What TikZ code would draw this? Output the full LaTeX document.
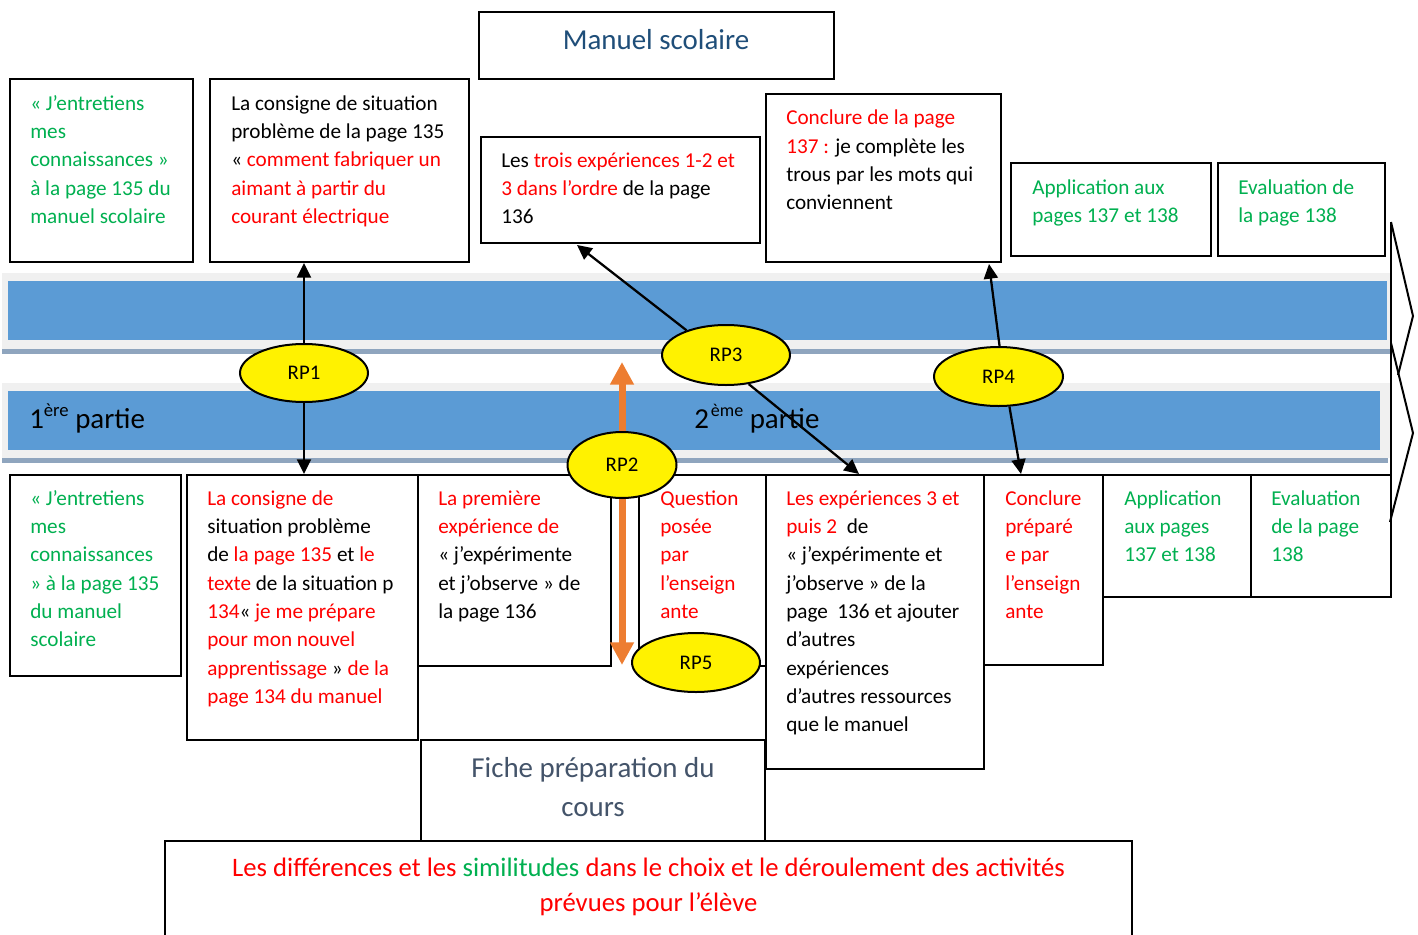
\documentclass[tikz,border=0pt]{standalone}
\usepackage{fontspec}
\setmainfont{Carlito}
\usetikzlibrary{arrows.meta,fit,shapes.geometric}
\definecolor{myred}{RGB}{255,0,0}
\definecolor{mygreen}{RGB}{0,176,80}
\definecolor{bandblue}{RGB}{91,155,213}
\definecolor{bandgray}{RGB}{240,240,240}
\definecolor{bandshadow}{RGB}{143,165,190}
\definecolor{titleblue}{RGB}{31,78,121}
\definecolor{slate}{RGB}{68,84,106}
\definecolor{arrorange}{RGB}{237,125,49}
\pgfdeclarelayer{back}
\pgfdeclarelayer{mid}
\pgfsetlayers{back,mid,main}
\newcommand\rtx[1]{\textcolor{myred}{#1}}
\newcommand\gtx[1]{\textcolor{mygreen}{#1}}
\begin{document}
\begin{tikzpicture}[x=0.75pt,y=-0.75pt,
  box/.style={draw, line width=1.5pt, inner sep=0pt, fill=white},
  txt/.style={anchor=north west, inner sep=0pt, align=left, font=\fontsize{15.9}{21.2}\selectfont},
  rp/.style={ellipse, draw, line width=1.5pt, fill=yellow, inner sep=0pt, font=\fontsize{15.6}{18}\selectfont},
  arr/.style={line width=1.7pt, -{Triangle[width=10.5pt,length=11pt]}},
  oarr/.style={draw=arrorange, line width=5.25pt, -{Triangle[width=17pt,length=17pt]}},
  chev/.style={line width=1.5pt, line join=miter}]
\useasboundingbox (0,0) rectangle (1418,935);

\begin{pgfonlayer}{back}
% bands
\fill[bandgray] (2,273) rectangle (1392,349);
\fill[bandshadow] (2,349) rectangle (1390,354);
\fill[bandblue] (8,281) rectangle (1387,340);
\fill[bandgray] (2,383) rectangle (1390,458);
\fill[bandshadow] (2,458) rectangle (1388,463);
\fill[bandblue] (8,391) rectangle (1380,450);

\node[anchor=base west, inner sep=0pt, font=\fontsize{21.7}{26}\selectfont] (p1) at (29,428)
  {1\raisebox{8.3pt}{\fontsize{14}{14}\selectfont ère} partie};
\node[anchor=base west, inner sep=0pt, font=\fontsize{21.7}{26}\selectfont] (p2) at (694,428)
  {2\hspace{1.5pt}\raisebox{8.3pt}{\fontsize{13.5}{14}\selectfont ème} partie};

% boxes
\node[box, fit={(10,79)(193,262)}] (A) {};
\node[box, fit={(210,79)(469,262)}] (B) {};
\node[box, fit={(479,12)(834,79)}] (T) {};
\node[box, fit={(481,137)(760,243)}] (C) {};
\node[box, fit={(766,94)(1001,262)}] (D) {};
\node[box, fit={(1011,163)(1211,256)}] (E) {};
\node[box, fit={(1218,163)(1385,256)}] (F) {};
\node[box, fit={(10,475)(181,676)}] (G) {};
\node[box, fit={(187,475)(418,740)}] (H) {};
\node[box, fit={(418,475)(611,666)}] (I) {};
\node[box, fit={(639,475)(766,666)}] (J) {};
\node[box, fit={(766,475)(984,769)}] (K) {};
\node[box, fit={(984,475)(1103,665)}] (L) {};
\node[box, fit={(1103,475)(1251,597)}] (M) {};
\node[box, fit={(1251,475)(1391,597)}] (N) {};
\node[box, fit={(421,740)(765,841)}] (Fi) {};
\node[box, fit={(165,841)(1132,960)}] (Bo) {};

% chevrons
\draw[chev] (1391,222) -- (1391,597);
\draw[chev] (1391,222) -- (1413,316) -- (1398,375);
\draw[chev] (1391,343) -- (1413,433) -- (1390,522);

% texts
\node[anchor=base, inner sep=0pt, font=\fontsize{21.7}{26}\selectfont, text=titleblue] (tT) at (656,50) {Manuel scolaire};
\node[txt, text=mygreen] (tA) at (30,90.4) {\strut«~J’entretiens\\mes\\connaissances~»\\à la page 135 du\\manuel scolaire};
\node[txt] (tB) at (231,90.4) {\strut La consigne de situation\\problème de la page 135\\«~\rtx{comment fabriquer un}\\\rtx{aimant à partir du}\\\rtx{courant électrique}};
\node[txt] (tC) at (501,147.4) {\strut Les \rtx{trois expériences 1-2 et}\\\rtx{3 dans l’ordre} de la page\\136};
\node[txt] (tD) at (786,104.7) {\strut\rtx{Conclure de la page}\\\rtx{137~:} je complète les\\trous par les mots qui\\conviennent};
\node[txt, text=mygreen] (tE) at (1032,174.4) {\strut Application aux\\pages 137 et 138};
\node[txt, text=mygreen] (tF) at (1238,174.4) {\strut Evaluation de\\la page 138};
\node[txt, text=mygreen] (tG) at (30,485.4) {\strut«~J’entretiens\\mes\\connaissances\\»~à la page 135\\du manuel\\scolaire};
\node[txt] (tH) at (207,485.4) {\strut\rtx{La consigne de}\\situation problème\\de \rtx{la page 135} et \rtx{le}\\\rtx{texte} de la situation p\\\rtx{134}«~\rtx{je me prépare}\\\rtx{pour mon nouvel}\\\rtx{apprentissage} » \rtx{de la}\\\rtx{page 134 du manuel}};
\node[txt] (tI) at (438,485.4) {\strut\rtx{La première}\\\rtx{expérience de}\\«~j’expérimente\\et j’observe » de\\la page 136};
\node[txt, text=myred] (tJ) at (660,485.4) {\strut Question\\posée\\par\\l’enseign\\ante};
\node[txt] (tK) at (786,485.4) {\strut\rtx{Les expériences 3 et}\\\rtx{puis 2}\ \ de\\«~j’expérimente et\\j’observe » de la\\page\ \ 136 et ajouter\\d’autres\\expériences\\d’autres ressources\\que le manuel};
\node[txt, text=myred] (tL) at (1005,485.4) {\strut Conclure\\préparé\\e par\\l’enseign\\ante};
\node[txt, text=mygreen] (tM) at (1124,485.4) {\strut Application\\aux pages\\137 et 138};
\node[txt, text=mygreen] (tN) at (1271,485.4) {\strut Evaluation\\de la page\\138};
\node[anchor=north, align=center, inner sep=0pt, font=\fontsize{21.7}{29.5}\selectfont, text=slate] (tFi) at (593,749.5) {\strut Fiche préparation du\\cours};
\node[anchor=north, align=center, inner sep=0pt, font=\fontsize{20}{26.25}\selectfont, text=myred] (tBo) at (648.5,852.2) {\strut Les différences et les \gtx{similitudes} dans le choix et le déroulement des activités\\prévues pour l’élève};
\end{pgfonlayer}

% ellipses
\node[rp, minimum width=96pt, minimum height=43.5pt] (rp1) at (304,373) {RP1};
\node[rp, minimum width=81.75pt, minimum height=49.5pt] (rp2) at (622,465) {RP2};
\node[rp, minimum width=96pt, minimum height=45pt] (rp3) at (726,355) {RP3};
\node[rp, minimum width=96.75pt, minimum height=44.25pt] (rp4) at (998.5,376.5) {RP4};
\node[rp, minimum width=96pt, minimum height=44.25pt] (rp5) at (696,662.5) {RP5};

\coordinate (t3a) at (577,245);
\coordinate (t3b) at (859,474);
\coordinate (t4a) at (989,264);
\coordinate (t4b) at (1021,474);
\coordinate (oup) at (623,362);
\coordinate (odn) at (623,665);

\begin{pgfonlayer}{mid}
\draw[arr] (rp1) -- (rp1 |- B.south);
\draw[arr] (rp1) -- (rp1 |- H.north);
\draw[arr] (rp3.148) -- (t3a);
\draw[arr] (rp3.-52) -- (t3b);
\draw[arr] (rp4.88) -- (t4a);
\draw[arr] (rp4.-70) -- (t4b);
\draw[oarr] (rp2) -- (rp2 |- oup);
\draw[oarr] (rp2) -- (rp2 |- odn);
\end{pgfonlayer}
\end{tikzpicture}
\end{document}
